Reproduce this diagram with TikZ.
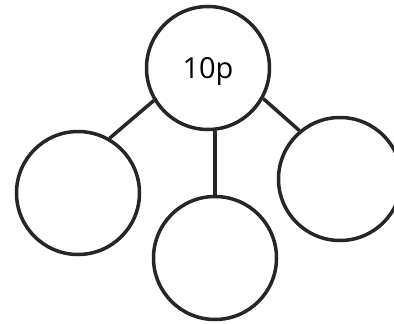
\documentclass[tikz,border=0pt]{standalone}
\usepackage{fontspec}
\setsansfont{Open Sans}
\usetikzlibrary{positioning}

\begin{document}
\begin{tikzpicture}[
    x=1pt, y=-1pt,
    part/.style={
      circle,
      draw=black!85,
      line width=3.5pt,
      fill=white,
      inner sep=0pt,
      minimum size=123pt
    },
    link/.style={draw=black!85, line width=3.5pt}
  ]
  \useasboundingbox[fill=white] (0,0) rectangle (394,324);
  % whole and parts
  \node[part, font=\sffamily\fontsize{29}{32}\selectfont, text depth=0pt] (whole) at (208,68) {10p};
  \node[part] (left) at (78,193) {};
  \node[part] (bottom) at (215,258) {};
  \node[part] (right) at (340,179) {};
  % connectors
  \draw[link] (whole.211) -- (left.60);
  \draw[link] (whole.331) -- (right.130);
  \draw[link] (bottom.north) -- (bottom.north |- whole.south);
\end{tikzpicture}
\end{document}
